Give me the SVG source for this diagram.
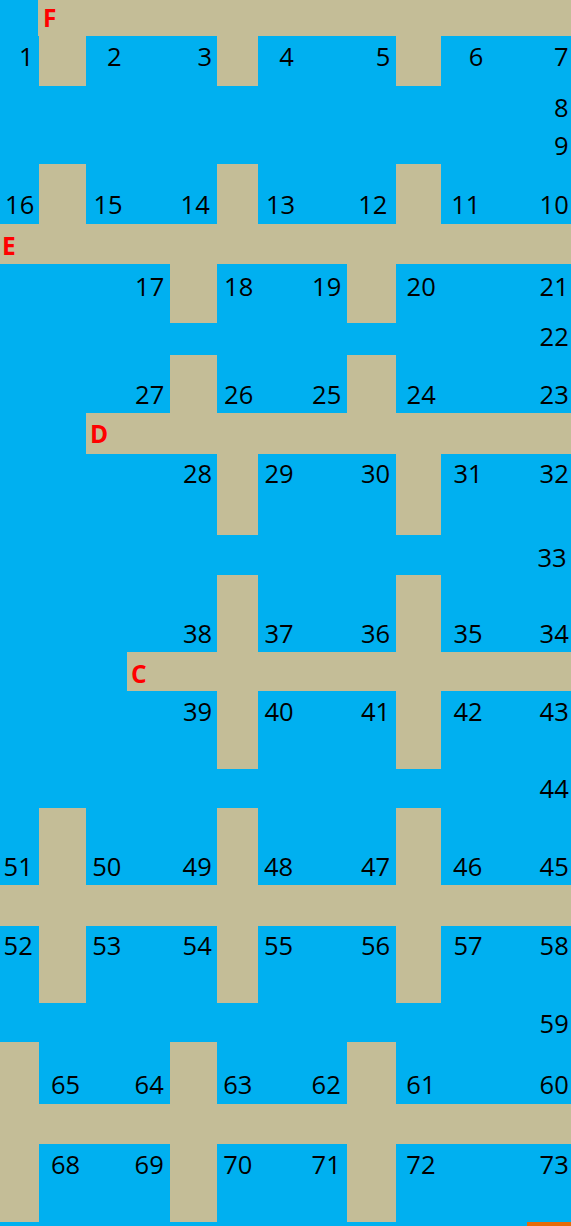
<svg xmlns="http://www.w3.org/2000/svg" width="571" height="1226" viewBox="0 0 571 1226">
<style>
.t{fill:#C4BD97}
.n{font-family:"Open Sans","Noto Sans",sans-serif;font-size:25.5px;fill:#000;text-anchor:middle}
.l{font-family:"Open Sans","Noto Sans",sans-serif;font-size:24.5px;font-weight:bold;fill:#FF0000}
</style>
<rect x="0" y="0" width="571" height="1226" fill="#00B0F0"/>
<g id="walls">
<rect class="t" x="38" y="0" width="533" height="36"/>
<rect class="t" x="39" y="36" width="47" height="50"/>
<rect class="t" x="217" y="36" width="41" height="50"/>
<rect class="t" x="396" y="36" width="45" height="50"/>
<rect class="t" x="39" y="164" width="47" height="60"/>
<rect class="t" x="217" y="164" width="41" height="60"/>
<rect class="t" x="396" y="164" width="45" height="60"/>
<rect class="t" x="0" y="224" width="571" height="40"/>
<rect class="t" x="170" y="264" width="47" height="59"/>
<rect class="t" x="347" y="264" width="49" height="59"/>
<rect class="t" x="170" y="355" width="47" height="58"/>
<rect class="t" x="347" y="355" width="49" height="58"/>
<rect class="t" x="86" y="413" width="485" height="41"/>
<rect class="t" x="217" y="454" width="41" height="81"/>
<rect class="t" x="396" y="454" width="45" height="81"/>
<rect class="t" x="217" y="575" width="41" height="194"/>
<rect class="t" x="396" y="575" width="45" height="194"/>
<rect class="t" x="127" y="652" width="444" height="39"/>
<rect class="t" x="39" y="808" width="47" height="195"/>
<rect class="t" x="217" y="808" width="41" height="195"/>
<rect class="t" x="396" y="808" width="45" height="195"/>
<rect class="t" x="0" y="885" width="571" height="41"/>
<rect class="t" x="0" y="1042" width="39" height="180"/>
<rect class="t" x="170" y="1042" width="47" height="180"/>
<rect class="t" x="347" y="1042" width="49" height="180"/>
<rect class="t" x="0" y="1104" width="571" height="40"/>
<rect x="527" y="1222" width="44" height="4" fill="#E46C0A"/>
</g>
<g id="letters">
<text class="l" x="43" y="27">F</text>
<text class="l" x="2" y="255">E</text>
<text class="l" x="90" y="443">D</text>
<text class="l" x="131" y="683">C</text>
</g>
<g id="numbers">
<text class="n" x="26.3" y="66">1</text>
<text class="n" x="114.2" y="66">2</text>
<text class="n" x="204.7" y="66">3</text>
<text class="n" x="286.5" y="66">4</text>
<text class="n" x="383" y="66">5</text>
<text class="n" x="476" y="66">6</text>
<text class="n" x="561.2" y="66">7</text>
<text class="n" x="561.2" y="116.7">8</text>
<text class="n" x="561.2" y="155">9</text>
<text class="n" x="554.2" y="214">10</text>
<text class="n" x="465.8" y="214">11</text>
<text class="n" x="372.8" y="214">12</text>
<text class="n" x="280.5" y="214">13</text>
<text class="n" x="195.2" y="214">14</text>
<text class="n" x="108" y="214">15</text>
<text class="n" x="19.7" y="214">16</text>
<text class="n" x="149.7" y="296">17</text>
<text class="n" x="238.7" y="296">18</text>
<text class="n" x="326.7" y="296">19</text>
<text class="n" x="421.2" y="296">20</text>
<text class="n" x="554.2" y="296">21</text>
<text class="n" x="554.2" y="346">22</text>
<text class="n" x="554.2" y="404">23</text>
<text class="n" x="421.2" y="404">24</text>
<text class="n" x="326.7" y="404">25</text>
<text class="n" x="238.7" y="404">26</text>
<text class="n" x="149.7" y="404">27</text>
<text class="n" x="197.5" y="483">28</text>
<text class="n" x="279" y="483">29</text>
<text class="n" x="375.5" y="483">30</text>
<text class="n" x="468" y="483">31</text>
<text class="n" x="554.2" y="483">32</text>
<text class="n" x="552" y="566.7">33</text>
<text class="n" x="554.2" y="643">34</text>
<text class="n" x="468" y="643">35</text>
<text class="n" x="375.5" y="643">36</text>
<text class="n" x="279" y="643">37</text>
<text class="n" x="197.5" y="643">38</text>
<text class="n" x="197.5" y="721">39</text>
<text class="n" x="279" y="721">40</text>
<text class="n" x="375.5" y="721">41</text>
<text class="n" x="468" y="721">42</text>
<text class="n" x="554.2" y="721">43</text>
<text class="n" x="554.2" y="798.3">44</text>
<text class="n" x="554.2" y="876">45</text>
<text class="n" x="467.7" y="876">46</text>
<text class="n" x="375.5" y="876">47</text>
<text class="n" x="278.5" y="876">48</text>
<text class="n" x="197.2" y="876">49</text>
<text class="n" x="106.8" y="876">50</text>
<text class="n" x="18.2" y="876">51</text>
<text class="n" x="18.2" y="955">52</text>
<text class="n" x="106.8" y="955">53</text>
<text class="n" x="197.2" y="955">54</text>
<text class="n" x="278.5" y="955">55</text>
<text class="n" x="375.5" y="955">56</text>
<text class="n" x="468" y="955">57</text>
<text class="n" x="554.2" y="955">58</text>
<text class="n" x="554.2" y="1032.7">59</text>
<text class="n" x="554.2" y="1094">60</text>
<text class="n" x="420.9" y="1094">61</text>
<text class="n" x="326.2" y="1094">62</text>
<text class="n" x="237.8" y="1094">63</text>
<text class="n" x="149.2" y="1094">64</text>
<text class="n" x="65.5" y="1094">65</text>
<text class="n" x="65.5" y="1174">68</text>
<text class="n" x="149.2" y="1174">69</text>
<text class="n" x="237.8" y="1174">70</text>
<text class="n" x="326.2" y="1174">71</text>
<text class="n" x="420.9" y="1174">72</text>
<text class="n" x="554.2" y="1174">73</text>
</g>
</svg>
